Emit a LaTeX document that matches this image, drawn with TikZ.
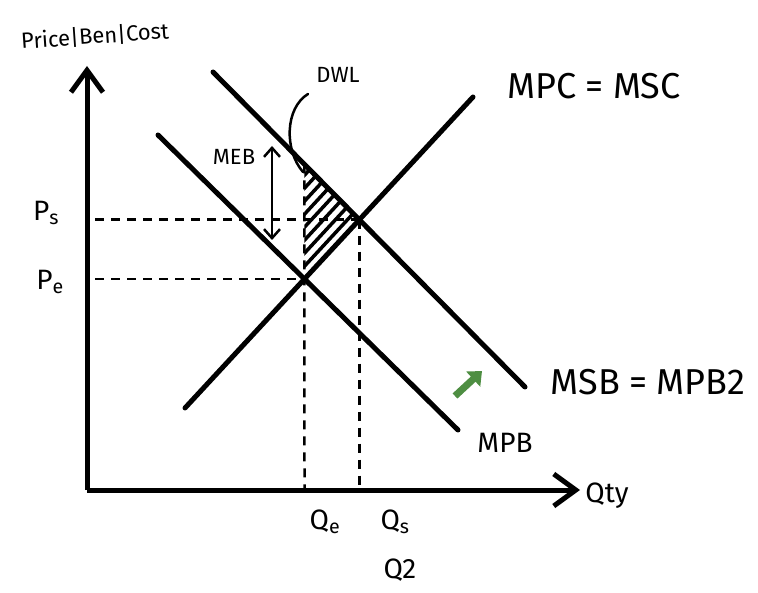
\documentclass[tikz,border=0pt]{standalone}
\usepackage{fontspec}
\setmainfont{Fira Sans}
\usetikzlibrary{arrows.meta,calc}
\definecolor{arrowgreen}{RGB}{78,142,66}
\begin{document}
\begin{tikzpicture}[x=1pt,y=-1pt,
  curve/.style={line width=5pt, line cap=round},
  axisline/.style={line width=5pt, -{Straight Barb[length=22pt,width=32pt]}},
  dashline/.style={line width=2.5pt, dash pattern=on 9pt off 7pt},
  hatchline/.style={line width=3.5pt},
  thinline/.style={line width=2.5pt, line cap=round},
  lbl/.style={inner sep=0pt, font=\fontsize{36}{36}\selectfont},
  midlbl/.style={inner sep=0pt, font=\fontsize{28}{28}\selectfont},
  smalllbl/.style={inner sep=0pt, font=\fontsize{22}{22}\selectfont}]
\useasboundingbox (0,0) rectangle (758,593);
% axes
\coordinate (O) at (87,490);
\coordinate (Ytop) at (87,66);
\coordinate (Xend) at (580,490);
\draw[axisline] (O) -- (Ytop);
\draw[axisline] (O) -- (Xend);
% curves
\coordinate (S1) at (185,408);
\coordinate (S2) at (473,97);
\coordinate (D1) at (158,135);
\coordinate (D2) at (458,430);
\coordinate (M1) at (213,72);
\coordinate (M2) at (525,387);
\coordinate (E) at (intersection of S1--S2 and D1--D2);
\coordinate (Es) at (intersection of S1--S2 and M1--M2);
\coordinate (T) at (intersection of M1--M2 and E--{$(E)+(0,-300)$});
% hatching (DWL)
\begin{scope}
  \clip (T) -- (E) -- (Es) -- cycle;
  \foreach \i in {0,...,9} {
    \draw[hatchline] ($(E)+(0,-\i*13)$) ++(-60,65) -- ++(160,-173);
  }
\end{scope}
% dashed guides
\draw[dashline] ($(O|-Es)+(8,0)$) -- (Es);
\draw[dashline] ($(O|-E)+(8,0)$) -- (E);
\draw[dashline] (T) -- (E|-O);
\draw[dashline] (Es) -- (Es|-O);
% lines
\draw[curve] (S1) -- (S2);
\draw[curve] (D1) -- (D2);
\draw[curve] (M1) -- (M2);
% MEB arrow
\coordinate (MEBtop) at (272,146);
\coordinate (MEBbot) at (272,240);
\draw[thinline, {Straight Barb[length=9pt,width=16pt]}-{Straight Barb[length=9pt,width=16pt]}] (MEBtop) -- (MEBbot);
% DWL leader
\coordinate (DWLa) at (308,94);
\coordinate (DWLb) at (303,172);
\draw[thinline] (DWLa) .. controls (285,108) and (284,150) .. (DWLb);
% green arrow
\coordinate (G1) at (455,396);
\coordinate (G2) at (482,371);
\draw[arrowgreen, line width=7pt, -{Triangle[length=12pt,width=20pt]}] (G1) -- (G2);
% labels
\node[smalllbl, rotate=4] (ylbl) at (95,36) {Price|Ben|Cost};
\node[lbl] (mpclbl) at (594,86) {MPC = MSC};
\node[lbl] (msblbl) at (648,382) {MSB = MPB2};
\node[midlbl] (mpblbl) at (505,443) {MPB};
\node[midlbl] (qtylbl) at (607,496) {Qty};
\node[midlbl] (qelbl) at (325,522) {Q\textsubscript{e}};
\node[midlbl] (qslbl) at (395,522) {Q\textsubscript{s}};
\node[midlbl] (q2lbl) at (400,570) {Q2};
\node[midlbl] (pslbl) at (46,213) {P\textsubscript{s}};
\node[midlbl] (pelbl) at (50,282) {P\textsubscript{e}};
\node[smalllbl] (meblbl) at (234,157) {MEB};
\node[smalllbl] (dwllbl) at (338,75) {DWL};
\end{tikzpicture}
\end{document}
